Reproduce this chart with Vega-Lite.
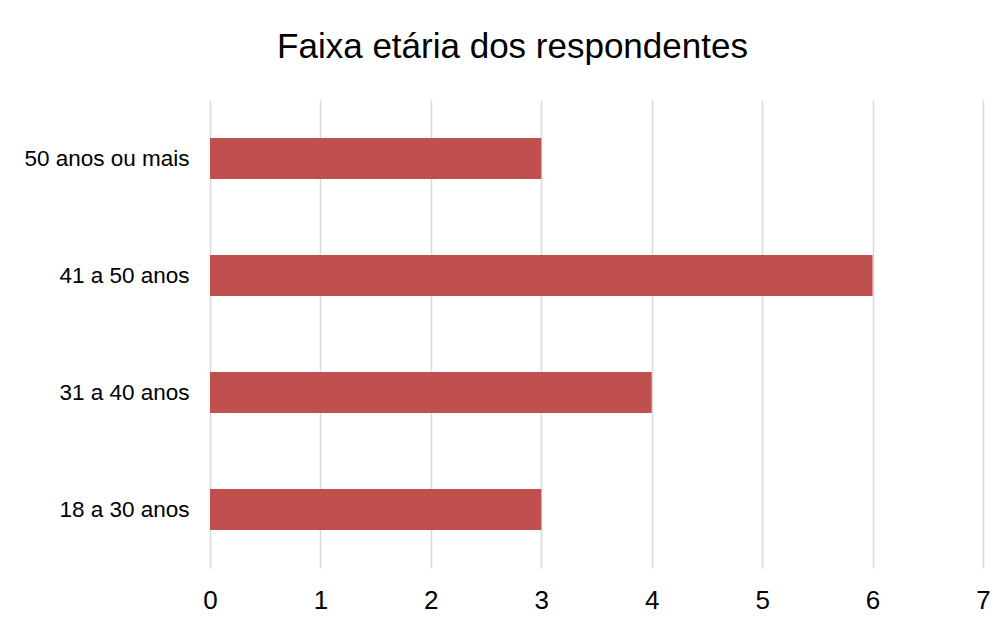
{
  "$schema": "https://vega.github.io/schema/vega-lite/v6.json",
  "width": 773,
  "height": 468,
  "autosize": {"type": "none"},
  "padding": {"left": 210, "top": 100, "right": 20, "bottom": 57},
  "background": "white",
  "title": {
    "text": "Faixa etária dos respondentes",
    "font": "Liberation Sans",
    "fontSize": 35,
    "fontWeight": "normal",
    "color": "#000000",
    "anchor": "middle",
    "frame": "group",
    "baseline": "alphabetic",
    "offset": 7,
    "dx": -84
  },
  "data": {
    "values": [
      {"faixa": "18 a 30 anos", "respondentes": 3},
      {"faixa": "31 a 40 anos", "respondentes": 4},
      {"faixa": "41 a 50 anos", "respondentes": 6},
      {"faixa": "50 anos ou mais", "respondentes": 3}
    ]
  },
  "mark": {"type": "bar", "color": "#c0504d"},
  "encoding": {
    "y": {
      "field": "faixa",
      "type": "nominal",
      "sort": ["50 anos ou mais", "41 a 50 anos", "31 a 40 anos", "18 a 30 anos"],
      "scale": {"paddingInner": 0.65, "paddingOuter": 0.325},
      "axis": {
        "title": null,
        "domain": false,
        "ticks": false,
        "grid": false,
        "labelFont": "Liberation Sans",
        "labelFontSize": 22.5,
        "labelColor": "#000000",
        "labelPadding": 21
      }
    },
    "x": {
      "field": "respondentes",
      "type": "quantitative",
      "scale": {"domain": [0, 7], "nice": false},
      "axis": {
        "title": null,
        "domain": false,
        "ticks": false,
        "tickSize": 0,
        "values": [0, 1, 2, 3, 4, 5, 6, 7],
        "grid": true,
        "gridColor": "#d9d9d9",
        "gridWidth": 1.5,
        "labelFont": "Liberation Sans",
        "labelFontSize": 26,
        "labelColor": "#000000",
        "labelBaseline": "alphabetic",
        "labelPadding": 40,
        "labelFlush": false
      }
    }
  },
  "config": {"view": {"stroke": null}}
}
